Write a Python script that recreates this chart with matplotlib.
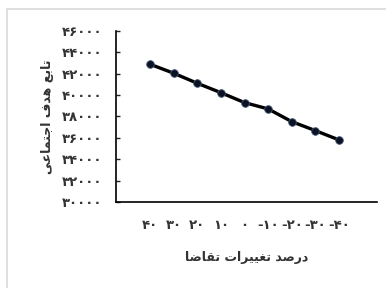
import matplotlib
matplotlib.use('Agg')
import matplotlib.pyplot as plt
from matplotlib.patches import Rectangle
from matplotlib.ticker import FuncFormatter

# data
demand_change = [40, 30, 20, 10, 0, -10, -20, -30, -40]
social_obj = [42890, 42050, 41110, 40230, 39300, 38710, 37520, 36680, 35810]
y_ticks = list(range(30000, 46001, 2000))
x_title = 'درصد تغییرات تقاضا'
y_title = 'تابع هدف اجتماعی'

# matplotlib has no arabic shaping, so pick presentation forms by hand
# (iso, final, initial, medial); 2-tuple = joins only to the right
FORMS = {
    'ا': ('\uFE8D', '\uFE8E'), 'د': ('\uFEA9', '\uFEAA'), 'ر': ('\uFEAD', '\uFEAE'),
    'ب': ('\uFE8F', '\uFE90', '\uFE91', '\uFE92'), 'ت': ('\uFE95', '\uFE96', '\uFE97', '\uFE98'),
    'ج': ('\uFE9D', '\uFE9E', '\uFE9F', '\uFEA0'), 'ص': ('\uFEB9', '\uFEBA', '\uFEBB', '\uFEBC'),
    'ض': ('\uFEBD', '\uFEBE', '\uFEBF', '\uFEC0'), 'ع': ('\uFEC9', '\uFECA', '\uFECB', '\uFECC'),
    'غ': ('\uFECD', '\uFECE', '\uFECF', '\uFED0'), 'ف': ('\uFED1', '\uFED2', '\uFED3', '\uFED4'),
    'ق': ('\uFED5', '\uFED6', '\uFED7', '\uFED8'), 'م': ('\uFEE1', '\uFEE2', '\uFEE3', '\uFEE4'),
    'ه': ('\uFEE9', '\uFEEA', '\uFEEB', '\uFEEC'), 'ی': ('\uFBFC', '\uFBFD', '\uFBFE', '\uFBFF'),
}

def shape(s):
    out = []
    for i, c in enumerate(s):
        if c not in FORMS:
            out.append(c)
            continue
        prev = s[i-1] if i > 0 else ''
        nxt = s[i+1] if i < len(s)-1 else ''
        jp = prev in FORMS and len(FORMS[prev]) == 4
        jn = len(FORMS[c]) == 4 and nxt in FORMS
        f = FORMS[c]
        if jp and jn:
            out.append(f[3])
        elif jp:
            out.append(f[1])
        elif jn:
            out.append(f[2])
        else:
            out.append(f[0])
    return ''.join(out)[::-1]

def fa_num(v):
    s = str(int(v))
    return s.translate(str.maketrans('0123456789', '۰۱۲۳۴۵۶۷۸۹'))

plt.rcParams['font.family'] = ['DejaVu Sans']
plt.rcParams['font.weight'] = 'bold'

fig = plt.figure(figsize=(3.86, 2.88), dpi=100)
fig.patches.append(Rectangle((7/386, -0.1), 1.2, 0.969 + 0.1, transform=fig.transFigure,
                             fill=False, edgecolor='#d9d9d9', linewidth=1.2))
ax = fig.add_axes([0.3018, 0.2986, 0.6749, 0.5938])

xs = list(range(len(demand_change)))
ax.plot(xs, social_obj, color='black', lw=2.4, marker='o', ms=5.5,
        mfc='#0b1222', mec='#44557a', mew=0.6, zorder=3)

ax.set_xlim(-1.42, 9.61)
ax.set_ylim(30000, 46000)
ax.set_yticks(y_ticks)
ax.yaxis.set_major_formatter(FuncFormatter(lambda v, p: fa_num(v)))
ax.set_xticks(xs)
ax.set_xticklabels([fa_num(v) for v in demand_change])

for s in ['top', 'right']:
    ax.spines[s].set_visible(False)
for s in ['left', 'bottom']:
    ax.spines[s].set_linewidth(1.2)
    ax.spines[s].set_color('black')

ax.tick_params(axis='y', direction='in', length=3, width=1, color='#222222', pad=10,
               labelsize=9.5, labelcolor='#333333')
ax.tick_params(axis='x', length=0, pad=12, labelsize=9.5, labelcolor='#333333')

ax.set_xlabel(shape(x_title), fontsize=9, fontweight='bold', color='#333333', va='center')
ax.xaxis.set_label_coords(0.501, -0.327)
ax.set_ylabel(shape(y_title), fontsize=9, fontweight='bold', color='#333333', va='center')
ax.yaxis.set_label_coords(-0.263, 0.5)

fig.savefig('out.png', dpi=100)
